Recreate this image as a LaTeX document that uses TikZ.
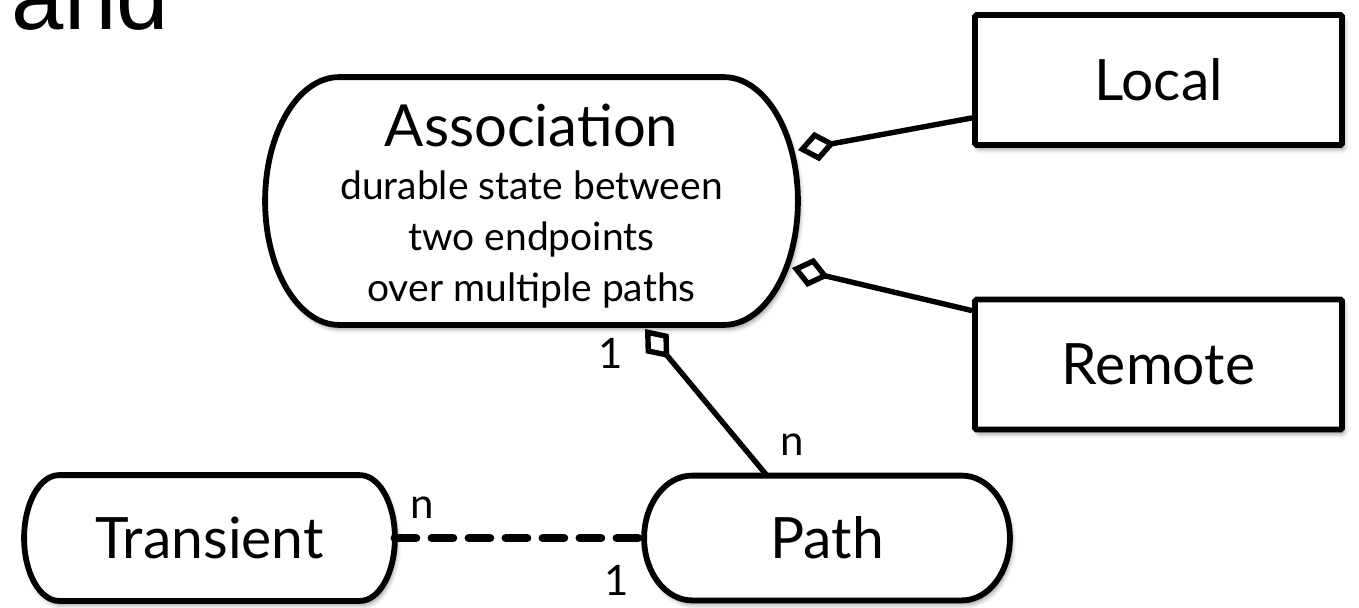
\documentclass[tikz,border=0pt]{standalone}
\usepackage{fontspec}
\setmainfont{Lato}
\newfontfamily\andfont{Liberation Sans}
\usetikzlibrary{arrows.meta,calc,backgrounds,shadows.blur}

% outline of a box whose two ends are half ellipses: node, x radius of the ends
\newcommand\pilloutline[2]{%
  \draw[outline] let \p1=($(#1.north east)-(#1.south west)$), \n1={0.5*\y1} in
    ($(#1.north west)+(#2,0pt)$) -- ($(#1.north east)-(#2,0pt)$)
    arc[start angle=90,end angle=-90,x radius=#2,y radius=\n1]
    -- ($(#1.south west)+(#2,0pt)$)
    arc[start angle=270,end angle=90,x radius=#2,y radius=\n1] -- cycle;}

\tikzset{
  outline/.style={line width=2.9pt, fill=white,
    blur shadow={shadow xshift=1.2pt, shadow yshift=-2.2pt,
                 shadow blur radius=2.2pt, shadow opacity=40}},
  bigtext/.style={font=\fontsize{28.5}{32}\selectfont},
  squarebox/.style={draw, outline, rectangle, rounded corners=0.8pt,
    inner sep=0pt, minimum width=183.5pt, minimum height=65pt, bigtext},
  pillbox/.style={rectangle, inner sep=0pt, bigtext},
  link/.style={line width=2.7pt, -{Diamond[open,length=19pt,width=15pt,fill=white]}},
  dashlink/.style={line width=4.4pt, dash pattern=on 10.5pt off 8pt, line cap=round},
  mult/.style={inner sep=0pt, anchor=base, font=\fontsize{21}{24}\selectfont},
}

\begin{document}
\begin{tikzpicture}[x=0.5pt,y=-0.5pt]
\useasboundingbox (0,0) rectangle (1359,607);

% leftover word of the heading above
\node[inner sep=0pt, anchor=base west, font=\andfont\fontsize{47}{50}\selectfont]
  (andword) at (11.5,29) {and};

% entities
\node[pillbox, minimum width=266pt, minimum height=123.5pt, align=center,
      font=\fontsize{19.5}{25.5}\selectfont]
  (assoc) at (531.5,201)
  {\rule{0pt}{26pt}{\fontsize{29}{32}\selectfont Association}\\[1pt]
   durable state between\\
   two endpoints\\
   over multiple paths};
\node[squarebox] (local)  at (1158.5,80)  {Local};
\node[squarebox] (remote) at (1158.5,364.5) {Remote};
\node[pillbox, minimum width=185pt, minimum height=62.5pt] (transient) at (209.5,538) {Transient};
\node[pillbox, minimum width=182.5pt, minimum height=62pt] (path) at (827,538) {Path};

\begin{pgfonlayer}{background}
  \pilloutline{assoc}{37pt}
  \pilloutline{transient}{17.5pt}
  \pilloutline{path}{24pt}
\end{pgfonlayer}

% attachment points
\coordinate (lpin) at ($(local.south west)+(0,-30)$);
\coordinate (rpin) at ($(remote.north west)+(0,14)$);
\coordinate (ppin) at ($(path.north)+(-60,0)$);
\coordinate (tipL) at (798,150);
\coordinate (tipR) at (792,268);
\coordinate (tipP) at (645,329);

% aggregations into the association
\draw[link] (lpin) -- (tipL);
\draw[link] (rpin) -- (tipR);
\draw[link] (ppin) -- (tipP);

% transient paths
\draw[dashlink] (transient.east) -- (path.west);

% multiplicities
\node[mult] (m1) at (611,368) {1};
\node[mult] (m2) at (792,455) {n};
\node[mult] (m3) at (422,518) {n};
\node[mult] (m4) at (617,595) {1};
\end{tikzpicture}
\end{document}
